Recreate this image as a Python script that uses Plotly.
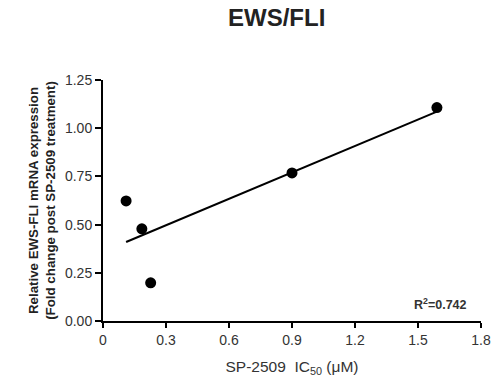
import numpy as np
import plotly.graph_objects as go

ic50 = [0.11, 0.185, 0.227, 0.90, 1.59]
fold_change = [0.623, 0.478, 0.198, 0.768, 1.107]
x_ticks = [0, 0.3, 0.6, 0.9, 1.2, 1.5, 1.8]
x_tick_labels = ["0", "0.3", "0.6", "0.9", "1.2", "1.5", "1.8"]
y_ticks = [0, 0.25, 0.5, 0.75, 1.0, 1.25]
y_tick_labels = ["0.00", "0.25", "0.50", "0.75", "1.00", "1.25"]
r2_label = "R<sup>2</sup>=0.742"

slope, intercept = np.polyfit(ic50, fold_change, 1)
fit_x = [min(ic50), max(ic50)]
fit_y = [slope * v + intercept for v in fit_x]

FONT = "Arial, Liberation Sans, sans-serif"
fig = go.Figure()
fig.add_trace(go.Scatter(x=fit_x, y=fit_y, mode="lines",
                         line=dict(color="black", width=2), showlegend=False))
fig.add_trace(go.Scatter(x=ic50, y=fold_change, mode="markers",
                         marker=dict(color="black", size=11), showlegend=False))

fig.add_annotation(x=1.745, y=0.09, xref="x", yref="y", text=r2_label, showarrow=False,
                   xanchor="right", yanchor="middle",
                   font=dict(family=FONT, size=12.5, color="#333333", weight="bold"))

fig.update_layout(
    width=503, height=385,
    margin=dict(l=103, r=22, t=80, b=64),
    paper_bgcolor="white", plot_bgcolor="white",
    title=dict(text="<b>EWS/FLI</b>", x=0.55, xanchor="center", y=0.955, yanchor="middle",
               font=dict(family=FONT, size=24, color="#222222")),
    font=dict(family=FONT, color="#222222"),
    xaxis=dict(range=[0, 1.8], tickvals=x_ticks, ticktext=x_tick_labels,
               showgrid=False, zeroline=False, showline=True, linecolor="black", linewidth=2,
               ticks="outside", ticklen=5, tickwidth=2, tickcolor="black",
               tickfont=dict(size=14, color="#333333"),
               title=dict(text="SP-2509  IC<sub>50</sub> (μM)", standoff=14,
                          font=dict(size=15.5, color="#333333"))),
    yaxis=dict(range=[0, 1.25], tickvals=y_ticks, ticktext=y_tick_labels,
               showgrid=False, zeroline=False, showline=True, linecolor="black", linewidth=2,
               ticks="outside", ticklen=6, tickwidth=2, tickcolor="black",
               tickfont=dict(size=14, color="#333333"),
               title=dict(text="<b>Relative EWS-FLI mRNA expression<br>(Fold change post SP-2509 treatment)</b>",
                          standoff=6, font=dict(size=13.3, color="#222222"))),
)

fig.write_html("out.html", config={"displayModeBar": False},
               post_script="document.body.style.margin='0';")
